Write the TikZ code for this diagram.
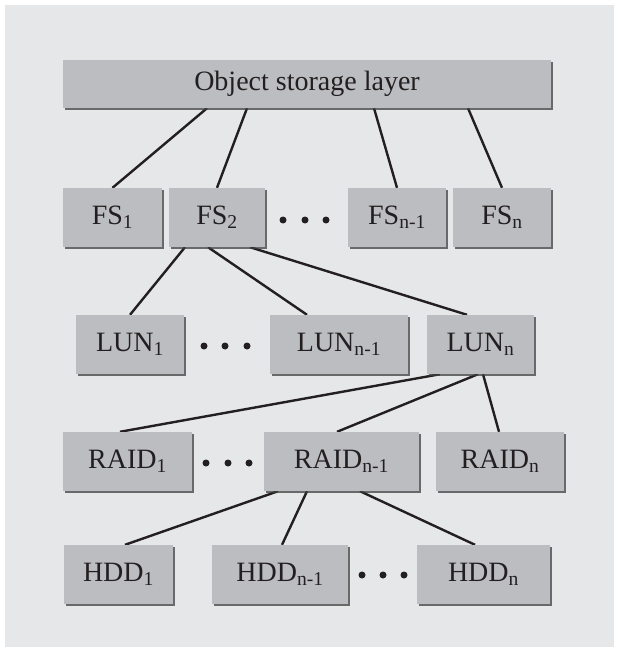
\documentclass[tikz,border=0pt]{standalone}
\usepackage{fontspec}
\setmainfont{Liberation Serif}
\usetikzlibrary{shadows}
\definecolor{panel}{HTML}{E6E7E8}
\definecolor{boxfill}{HTML}{BCBDC0}
\definecolor{ink}{HTML}{231F20}
\pgfdeclarelayer{bg}
\pgfsetlayers{bg,main}
\tikzset{
  blk/.style={fill=boxfill, inner sep=0pt, text=ink,
    font=\fontsize{28}{32}\selectfont,
    drop shadow={shadow xshift=2.2pt, shadow yshift=-2.2pt, fill=black!75, opacity=0.75}},
  link/.style={line width=2.4pt, draw=ink},
  dotmark/.style={circle, fill=ink, inner sep=0pt, minimum size=7pt}
}
\newcommand{\sub}[1]{\textsubscript{#1}}
\begin{document}
\begin{tikzpicture}[x=1pt,y=-1pt]
\useasboundingbox (0,0) rectangle (619,652);
\begin{pgfonlayer}{bg}
\fill[panel] (5,5) rectangle (614,647);
\end{pgfonlayer}
% top
\node[blk, minimum width=488pt, minimum height=48pt] (osl) at (307,84) {Object storage layer};
% FS row
\node[blk, minimum width=99pt, minimum height=59pt] (fs1) at (112.5,217.5) {FS\sub{1}};
\node[blk, minimum width=96pt, minimum height=59pt] (fs2) at (217,217.5) {FS\sub{2}};
\node[blk, minimum width=98pt, minimum height=59pt] (fsm) at (397,217.5) {FS\sub{n-1}};
\node[blk, minimum width=98pt, minimum height=59pt] (fsn) at (502,217.5) {FS\sub{n}};
\node[dotmark] (fd1) at (283,220) {};
\node[dotmark] (fd2) at (305,220) {};
\node[dotmark] (fd3) at (326,220) {};
% LUN row
\node[blk, minimum width=108pt, minimum height=59pt] (lun1) at (130,344.5) {LUN\sub{1}};
\node[blk, minimum width=138pt, minimum height=59pt] (lunm) at (339,344.5) {LUN\sub{n-1}};
\node[blk, minimum width=107pt, minimum height=59pt] (lunn) at (480.5,344.5) {LUN\sub{n}};
\node[dotmark] (ld1) at (204,346) {};
\node[dotmark] (ld2) at (225,346) {};
\node[dotmark] (ld3) at (247,346) {};
% RAID row
\node[blk, minimum width=129pt, minimum height=59pt] (raid1) at (127.5,461.5) {RAID\sub{1}};
\node[blk, minimum width=155pt, minimum height=59pt] (raidm) at (341.5,461.5) {RAID\sub{n-1}};
\node[blk, minimum width=128pt, minimum height=59pt] (raidn) at (500,461.5) {RAID\sub{n}};
\node[dotmark] (rd1) at (206,463) {};
\node[dotmark] (rd2) at (228,463) {};
\node[dotmark] (rd3) at (249,463) {};
% HDD row
\node[blk, minimum width=109pt, minimum height=59pt] (hdd1) at (118.5,574.5) {HDD\sub{1}};
\node[blk, minimum width=136pt, minimum height=59pt] (hddm) at (280,574.5) {HDD\sub{n-1}};
\node[blk, minimum width=133pt, minimum height=59pt] (hddn) at (483.5,574.5) {HDD\sub{n}};
\node[dotmark] (hd1) at (362,575) {};
\node[dotmark] (hd2) at (383,575) {};
\node[dotmark] (hd3) at (404,575) {};
% connectors
\begin{pgfonlayer}{bg}
\draw[link] ([xshift=-100pt]osl.south) -- (fs1.north);
\draw[link] ([xshift=-60pt]osl.south) -- (fs2.north);
\draw[link] ([xshift=67pt]osl.south) -- (fsm.north);
\draw[link] ([xshift=161pt]osl.south) -- (fsn.north);
\draw[link] ([xshift=-32pt]fs2.south) -- (lun1.north);
\draw[link] ([xshift=-9pt]fs2.south) -- ([xshift=-32pt]lunm.north);
\draw[link] ([xshift=33pt]fs2.south) -- ([xshift=-13.5pt]lunn.north);
\draw[link] ([xshift=-40.5pt]lunn.south) -- ([xshift=-7.5pt]raid1.north);
\draw[link] ([xshift=-2.5pt]lunn.south) -- ([xshift=-4.5pt]raidm.north);
\draw[link] ([xshift=2.5pt]lunn.south) -- ([xshift=-1pt]raidn.north);
\draw[link] ([xshift=-63.5pt]raidm.south) -- ([xshift=6.5pt]hdd1.north);
\draw[link] ([xshift=-34.5pt]raidm.south) -- ([xshift=2pt]hddm.north);
\draw[link] ([xshift=18.5pt]raidm.south) -- ([xshift=-8.5pt]hddn.north);
\end{pgfonlayer}
\end{tikzpicture}
\end{document}
